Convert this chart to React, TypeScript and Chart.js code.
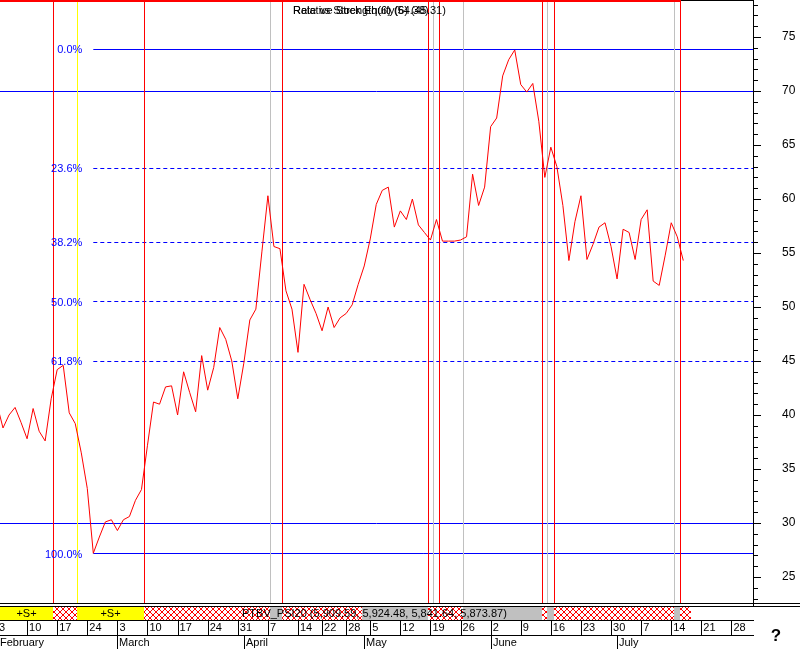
import React, { useEffect, useRef } from 'react';
import { Chart, registerables } from 'chart.js';

Chart.register(...registerables);

// RSI(6) values, one per trading day (index 0 = 3 Feb)
const rsiValues = [
  41.0, 38.8, 40.0, 40.7, 39.3, 37.8, 40.6, 38.5, 37.6, 41.5,
  44.2, 44.6, 40.2, 39.2, 36.5, 33.2, 27.2, 28.7, 30.1, 30.3,
  29.3, 30.3, 30.6, 32.1, 33.1, 37.2, 41.2, 41.0, 42.6, 42.7,
  40.0, 44.0, 42.1, 40.3, 45.5, 42.3, 44.4, 48.1, 47.0, 45.0,
  41.5, 44.8, 48.8, 49.8, 55.1, 60.3, 55.6, 55.4, 51.5, 49.8,
  45.8, 52.1, 50.7, 49.4, 47.8, 50.0, 48.1, 49.0, 49.4, 50.2,
  52.1, 53.8, 56.3, 59.5, 60.8, 61.1, 57.4, 58.9, 58.1, 60.0,
  57.6, 56.9, 56.2, 58.1, 56.1, 56.1, 56.1, 56.2, 56.5, 62.3,
  59.4, 61.1, 66.7, 67.5, 71.4, 72.9, 73.8, 70.6, 69.9, 70.7,
  67.2, 62.0, 64.8, 63.0, 59.4, 54.3, 57.9, 60.3, 54.4, 55.8,
  57.4, 57.8, 55.6, 52.6, 57.2, 56.9, 54.4, 58.1, 59.0, 52.4,
  52.0, 54.8, 57.8, 56.5, 54.3,
];

const xTickIdx = [0, 5, 10, 15, 20, 25, 30, 35, 40, 45, 50, 54, 58, 62, 67, 72, 77, 82, 87, 92, 97, 102, 107, 112, 117, 122];
const xTickLabels = ['3', '10', '17', '24', '3', '10', '17', '24', '31', '7', '14', '22', '28', '5', '12', '19', '26', '2', '9', '16', '23', '30', '7', '14', '21', '28'];
const monthIdx = [0, 20, 41, 61, 82, 103];
const monthLabels = ['February', 'March', 'April', 'May', 'June', 'July'];
const yTickValues = [25, 30, 35, 40, 45, 50, 55, 60, 65, 70, 75];

const fibLevels = [0, 23.6, 38.2, 50, 61.8, 100];
const fibHigh = 73.85;
const fibLow = 27.15;
const fibStartIdx = 16;
const overbought = 70;
const oversold = 30;

const redMarkers = [9.35, 24.45, 47.4, 71.55, 73.5, 90.6, 92.6, 113.45];
const grayMarkers = [45.35, 72.45, 77.45, 91.4, 112.5];
const yellowMarkers = [13.35];

const bandStart = [0.5, 9.35, 13.35, 24.45, 45.35, 47.4, 60.6, 71.55, 77.45, 90.6, 91.4, 92.6, 112.5, 113.45];
const bandEnd = [9.35, 13.35, 24.45, 45.35, 47.4, 60.6, 71.55, 77.45, 90.6, 91.4, 92.6, 112.5, 113.45, 115.3];
const bandKind = ['yellow', 'cross', 'yellow', 'cross', 'gray', 'cross', 'gray', 'cross', 'gray', 'cross', 'gray', 'cross', 'gray', 'cross'];

const titleTexts = ['Relative Strength(6) (54.38)', 'Rate vs Stock Equity(6) (45.31)'];
const bandText = 'PTBV_PSI20 (5,909.59, 5,924.48, 5,841.64, 5,873.87)';

const X_MIN = 0.5;
const X_MAX = 125.58;
const Y_MIN = 22.5;
const Y_MAX = 78.426;

const FONT = "'Liberation Sans', Arial, sans-serif";

function makePattern(ctx: CanvasRenderingContext2D) {
  const pc = document.createElement('canvas');
  pc.width = 6;
  pc.height = 6;
  const p = pc.getContext('2d')!;
  p.fillStyle = '#ffffff';
  p.fillRect(0, 0, 6, 6);
  p.fillStyle = '#ff0000';
  for (let k = 0; k < 6; k++) {
    p.fillRect(k, k, 1, 1);
    p.fillRect(5 - k, k, 1, 1);
  }
  return ctx.createPattern(pc, 'repeat');
}

const decoPlugin = {
  id: 'deco',
  beforeDraw(chart: any) {
    const ctx = chart.ctx;
    ctx.save();
    ctx.fillStyle = '#ffffff';
    ctx.fillRect(0, 0, chart.width, chart.height);
    ctx.restore();
  },
  beforeDatasetDraw(chart: any, args: any) {
    const ctx = chart.ctx;
    if (args.index !== 0) {
      // snap horizontal reference lines to the pixel grid
      const ds = chart.data.datasets[args.index];
      const y = chart.scales.y.getPixelForValue(ds.data[0].y);
      const target = Math.round(y - 0.5) + 0.5;
      ctx.save();
      ctx.translate(0, target - y);
      return;
    }
    const xs = chart.scales.x;
    const area = chart.chartArea;
    ctx.save();
    ctx.lineWidth = 1;
    const drawV = (arr: number[], color: string) => {
      ctx.strokeStyle = color;
      arr.forEach((v) => {
        const px = Math.round(xs.getPixelForValue(v)) + 0.5;
        ctx.beginPath();
        ctx.moveTo(px, area.top);
        ctx.lineTo(px, area.bottom);
        ctx.stroke();
      });
    };
    drawV(grayMarkers, '#c0c0c0');
    drawV(yellowMarkers, '#ffff00');
    drawV(redMarkers, '#ff0000');
    ctx.restore();
  },
  afterDatasetDraw(chart: any, args: any) {
    if (args.index !== 0) chart.ctx.restore();
  },
  afterDraw(chart: any) {
    const ctx = chart.ctx;
    const xs = chart.scales.x;
    const ys = chart.scales.y;
    const area = chart.chartArea;
    const R = Math.round(area.right);
    const B = Math.round(area.bottom);
    ctx.save();

    // top border
    const lastRed = Math.round(xs.getPixelForValue(redMarkers[redMarkers.length - 1]));
    ctx.fillStyle = '#ff0000';
    ctx.fillRect(0, 0, lastRed + 1, 2);
    ctx.fillStyle = '#000000';
    ctx.fillRect(lastRed + 1, 0, R - lastRed, 1);

    // title
    ctx.fillStyle = '#000000';
    ctx.font = `11px ${FONT}`;
    ctx.textAlign = 'left';
    ctx.textBaseline = 'middle';
    titleTexts.forEach((t) => ctx.fillText(t, 293, 11));

    // fib labels
    ctx.fillStyle = '#0000ff';
    ctx.textAlign = 'right';
    const fx = xs.getPixelForValue(fibStartIdx) - 11;
    fibLevels.forEach((lv) => {
      const v = fibHigh - ((fibHigh - fibLow) * lv) / 100;
      ctx.fillText(lv.toFixed(1) + '%', fx, Math.round(ys.getPixelForValue(v)) + 0.5);
    });

    // right axis line and ticks
    ctx.fillStyle = '#000000';
    ctx.fillRect(R, 0, 1, B + 3);
    for (let v = Math.ceil(Y_MIN); v <= Math.floor(Y_MAX); v++) {
      const py = Math.round(ys.getPixelForValue(v));
      const len = v % 5 === 0 ? 7 : 4;
      ctx.fillRect(R + 1, py, len, 1);
    }

    // bottom frame lines
    ctx.fillRect(0, B - 1, chart.width, 1);
    ctx.fillRect(0, B + 2, chart.width, 1);
    const bandTop = B + 3;
    const bandBot = B + 16;
    const pattern = makePattern(ctx);
    bandStart.forEach((s, i) => {
      const x0 = Math.max(0, Math.round(xs.getPixelForValue(s)));
      const x1 = Math.round(xs.getPixelForValue(bandEnd[i]));
      const kind = bandKind[i];
      ctx.fillStyle = kind === 'yellow' ? '#ffff00' : kind === 'gray' ? '#c0c0c0' : (pattern as any);
      ctx.fillRect(x0, bandTop, x1 - x0, bandBot - bandTop);
      if (kind === 'yellow') {
        ctx.fillStyle = '#000000';
        ctx.textAlign = 'center';
        ctx.textBaseline = 'middle';
        ctx.font = `11px ${FONT}`;
        ctx.fillText('+S+', (x0 + x1) / 2, (bandTop + bandBot) / 2);
      }
    });
    ctx.fillStyle = '#000000';
    ctx.font = `11px ${FONT}`;
    ctx.textAlign = 'left';
    ctx.textBaseline = 'middle';
    ctx.fillText(bandText, 242, (bandTop + bandBot) / 2 + 0.5);

    ctx.fillRect(0, bandBot, R + 1, 1);
    ctx.fillRect(0, bandBot + 15, R + 1, 1);

    // date separators
    xTickIdx.forEach((v) => {
      const px = Math.round(xs.getPixelForValue(v));
      if (px >= 0) ctx.fillRect(px, bandBot + 1, 1, 14);
    });
    // months
    monthIdx.forEach((v, i) => {
      const px = Math.round(xs.getPixelForValue(v));
      if (px >= 0) ctx.fillRect(px, bandBot + 16, 1, 14);
      ctx.fillText(monthLabels[i], Math.max(0, px + 2), bandBot + 23);
    });

    // question mark
    ctx.font = `bold 17px ${FONT}`;
    ctx.textAlign = 'center';
    ctx.fillText('?', 776, 636);
    ctx.restore();
  },
};

export default function App() {
  const ref = useRef<HTMLCanvasElement | null>(null);
  useEffect(() => {
    if (!ref.current) return;
    const hLine = (x0: number, y: number, dashed: boolean) => ({
      data: [{ x: x0, y }, { x: X_MAX, y }],
      borderColor: '#0000ff',
      borderWidth: 1,
      borderDash: dashed ? [4, 3] : [],
      pointRadius: 0,
      fill: false,
    });
    const fibDatasets = fibLevels.map((lv) =>
      hLine(fibStartIdx, fibHigh - ((fibHigh - fibLow) * lv) / 100, lv !== 0 && lv !== 100)
    );
    const chart = new Chart(ref.current, {
      type: 'line',
      data: {
        datasets: [
          {
            data: rsiValues.map((v, i) => ({ x: i, y: v })),
            borderColor: '#ff0000',
            borderWidth: 1,
            pointRadius: 0,
            tension: 0,
            fill: false,
          } as any,
          hLine(X_MIN, overbought, false) as any,
          hLine(X_MIN, oversold, false) as any,
          ...(fibDatasets as any[]),
        ],
      },
      options: {
        animation: false,
        responsive: false,
        maintainAspectRatio: false,
        devicePixelRatio: 1,
        layout: { padding: 0 },
        plugins: { legend: { display: false }, tooltip: { enabled: false } },
        events: [],
        scales: {
          x: {
            type: 'linear',
            position: 'bottom',
            min: X_MIN,
            max: X_MAX,
            afterBuildTicks: (s: any) => {
              s.ticks = xTickIdx.map((v) => ({ value: v }));
            },
            afterFit: (s: any) => {
              s.height = 45;
              s.paddingLeft = 0;
              s.paddingRight = 0;
            },
            grid: { display: false, drawTicks: false },
            border: { display: false },
            ticks: {
              autoSkip: false,
              maxRotation: 0,
              minRotation: 0,
              align: 'start',
              padding: 17,
              labelOffset: 2,
              color: '#000000',
              font: { family: FONT, size: 11 },
              callback: (_v: any, i: number) => xTickLabels[i],
            },
          } as any,
          y: {
            type: 'linear',
            position: 'right',
            min: Y_MIN,
            max: Y_MAX,
            afterBuildTicks: (s: any) => {
              s.ticks = yTickValues.map((v) => ({ value: v }));
            },
            afterFit: (s: any) => {
              s.width = 47;
              s.paddingTop = 0;
              s.paddingBottom = 0;
            },
            grid: { display: false, drawTicks: false },
            border: { display: false },
            ticks: {
              autoSkip: false,
              padding: 29,
              color: '#000000',
              font: { family: FONT, size: 12 },
              callback: (v: any) => String(v),
            },
          } as any,
        },
      },
      plugins: [decoPlugin as any],
    });
    return () => chart.destroy();
  }, []);
  return (
    <div style={{ position: 'fixed', left: 0, top: 0, width: 800, height: 649, background: '#fff' }}>
      <canvas ref={ref} width={800} height={649} style={{ display: 'block' }} />
    </div>
  );
}
